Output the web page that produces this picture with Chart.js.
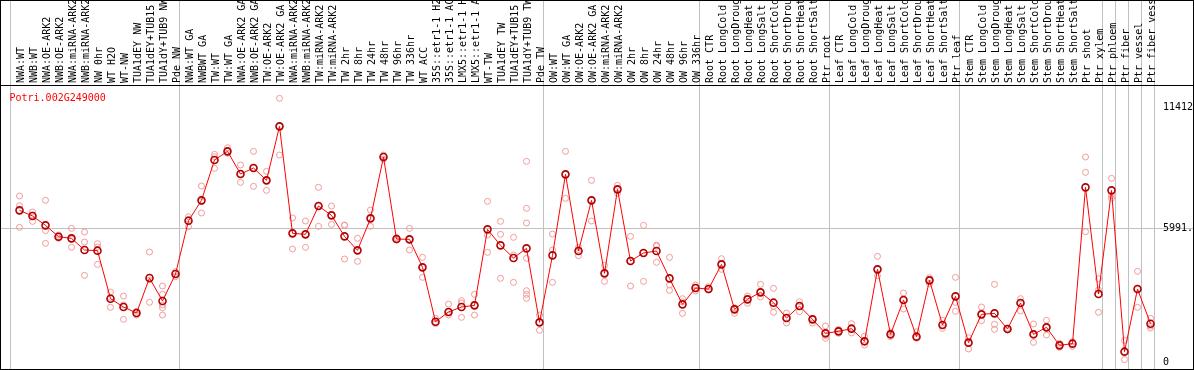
<!DOCTYPE html>
<html>
<head>
<meta charset="utf-8">
<script src="https://cdn.jsdelivr.net/npm/chart.js@4/dist/chart.umd.min.js"></script>
<style>
  body { margin: 0; background: #fff; }
  #wrap { width: 1194px; height: 370px; box-sizing: border-box; border: 1px solid #000; background: #fff; }
  canvas { display: block; }
</style>
</head>
<body>
<div id="wrap"><canvas id="chart" width="1192" height="368"></canvas></div>
<script>
const geneName = "Potri.002G249000";

const categories = [
  "NWA:WT", "NWB:WT", "NWA:OE-ARK2", "NWB:OE-ARK2", "NWA:miRNA-ARK2", "NWB:miRNA-ARK2", "NW 0hr", "WT H2O", "WT-NW",
  "TUA1dEY NW", "TUA1dEY+TUB15 NW", "TUA1dY+TUB9 NW", "Pde NW",
  "NWA:WT GA", "NWBWT GA", "TW:WT", "TW:WT GA", "NWA:OE-ARK2 GA", "NWB:OE-ARK2 GA", "TW:OE-ARK2", "TW:OE-ARK2 GA",
  "NWA:miRNA-ARK2", "NWB:miRNA-ARK2", "TW:miRNA-ARK2", "TW:miRNA-ARK2", "TW 2hr", "TW 8hr", "TW 24hr", "TW 48hr",
  "TW 96hr", "TW 336hr", "WT ACC", "35S::etr1-1 H2O", "35S::etr1-1 ACC", "LMX5::etr1-1 H2O", "LMX5::etr1-1 ACC",
  "WT-TW", "TUA1dEY TW", "TUA1dEY+TUB15 TW", "TUA1dY+TUB9 TW", "Pde TW",
  "OW:WT", "OW:WT GA", "OW:OE-ARK2", "OW:OE-ARK2 GA", "OW:miRNA-ARK2", "OW:miRNA-ARK2", "OW 2hr", "OW 8hr",
  "OW 24hr", "OW 48hr", "OW 96hr", "OW 336hr",
  "Root CTR", "Root LongCold", "Root LongDrought", "Root LongHeat", "Root LongSalt", "Root ShortCold",
  "Root ShortDrought", "Root ShortHeat", "Root ShortSalt", "Ptr root",
  "Leaf CTR", "Leaf LongCold", "Leaf LongDrought", "Leaf LongHeat", "Leaf LongSalt", "Leaf ShortCold",
  "Leaf ShortDrought", "Leaf ShortHeat", "Leaf ShortSalt", "Ptr leaf",
  "Stem CTR", "Stem LongCold", "Stem LongDrought", "Stem LongHeat", "Stem LongSalt", "Stem ShortCold",
  "Stem ShortDrought", "Stem ShortHeat", "Stem ShortSalt", "Ptr shoot", "Ptr xylem",
  "Ptr phloem", "Ptr fiber", "Ptr vessel", "Ptr fiber vessel"
];

// first category index of each group (a grey line sits before each)
const groupStarts = [0, 13, 41, 53, 63, 73, 84, 85, 86, 87, 88];

const means = [
  6807, 6552, 6134, 5625, 5550, 5027, 4997, 2842, 2468, 2199, 3770, 2738, 3949,
  6343, 7256, 9066, 9455, 8437, 8707, 8153, 10577, 5775, 5730, 7001, 6582, 5640, 5012, 6448, 9200,
  5520, 5505, 4249, 1810, 2244, 2468, 2543, 5954, 5236, 4668, 5101, 1780,
  4787, 8422, 4982, 7256, 3979, 7749, 4533, 4892, 4982, 3755, 2588, 3321,
  3276, 4383, 2364, 2812, 3127, 2663, 1975, 2513, 1915, 1287,
  1376, 1496, 928, 4159, 1242, 2783, 1137, 3665, 1661, 2947,
  868, 2139, 2184, 1481, 2648, 1242, 1556, 748, 823, 7839, 3052,
  7704, 464, 3276, 1720
];

const replicates = [
  [7450, 7016, 6044], [6732, 6313, 6600], [7256, 5894, 5326], [5700, 5625, 5550], [5999, 5146, 5510],
  [5834, 5386, 3890], [5311, 5161, 4383], [3142, 2453, 2900], [2962, 2558, 1915], [2274, 2169, 2110],
  [4937, 2678, 3680], [3411, 3037, 2558, 2438, 2109], [4054, 3979, 3830],
  [6523, 6074, 6400], [7899, 6687, 7200], [9320, 8692, 9215], [9619, 9365, 9455], [8841, 8063, 8437],
  [9455, 7884, 8707], [8557, 7704, 8153], [11833, 9290, 10577], [6463, 5071, 5775], [6328, 5146, 5730],
  [7839, 6089, 7001], [7001, 6178, 6582], [6134, 4623, 6150], [5550, 4518, 5000], [6822, 6089, 6448],
  [9290, 9230, 9100], [5580, 5475, 5520], [5999, 5027, 5505], [4697, 3800, 4249], [1960, 1720, 1780],
  [2600, 2109, 2244], [2753, 2005, 2650], [3037, 2109, 2543], [7211, 5700, 4922], [6313, 5730, 3755],
  [5595, 4802, 3575], [9006, 6897, 6238, 4653, 3201, 3037, 2857], [2109, 1421, 1780],
  [5745, 5027, 3575], [9455, 7345, 8422], [5146, 4772, 5050], [8153, 6328, 7256], [4338, 3620, 3979],
  [7929, 7570, 7749], [5640, 3411, 4533], [6134, 3620, 4892], [5251, 4473, 5200], [4697, 3456, 3216],
  [2842, 2184, 2700], [3456, 3186, 3321],
  [3381, 3231, 3276], [4638, 4159, 4383], [2438, 2184, 2400], [2962, 2633, 2812], [3486, 2917, 3127],
  [3306, 2229, 2500], [2199, 1750, 1975], [2708, 2259, 2513], [1960, 1750, 1915], [1616, 1182, 1062],
  [1466, 1287, 1376], [1720, 1302, 1496], [1152, 763, 928], [4742, 3875, 4159], [1331, 1137, 1242],
  [3097, 2379, 2783], [1361, 1062, 1137], [3785, 3516, 3665], [1870, 1511, 1661], [3800, 2678, 2274],
  [1092, 583, 868], [2468, 1855, 2139], [3486, 1690, 1466], [1520, 1440, 1481], [2842, 2289, 2648],
  [1705, 883, 1242], [1870, 1212, 1556], [838, 658, 748], [913, 703, 823], [9200, 8512, 5849],
  [3740, 3231, 2229],
  [8243, 7465, 7345], [972, 105, 464], [4069, 2453, 3276], [1960, 1616, 1526]
];

const yTicks = [0, 5991, 11412];
const yTickLabels = ["0", "5991.", "11412"];

const monoFont = { family: "'DejaVu Sans Mono', monospace", size: 10 };
const gridGrey = "#c0c0c0";

// Chart.js pushes rotated top labels about one line height to the left, so
// the label ticks are nudged right to sit over their points
const labelShift = 14 / 13;
const boundaryOffset = -0.6923;
const boundaryValues = groupStarts.map((k) => k + boundaryOffset);
const isBoundary = (v) => boundaryValues.includes(v);

const meanPoints = means.map((v, i) => ({ x: i, y: v }));
const repPoints = [];
replicates.forEach((arr, i) => arr.forEach((v) => repPoints.push({ x: i, y: v })));

const titlePlugin = {
  id: "geneTitle",
  afterDraw(chart) {
    const { ctx, chartArea } = chart;
    ctx.save();
    ctx.font = "10px 'DejaVu Sans Mono', monospace";
    ctx.fillStyle = "#ff0000";
    ctx.textBaseline = "alphabetic";
    ctx.fillText(geneName, chartArea.left + 8.5, chartArea.top + 16);
    ctx.restore();
  }
};

const ctx = document.getElementById("chart").getContext("2d");
new Chart(ctx, {
  data: {
    datasets: [
      {
        type: "line",
        label: "mean",
        data: meanPoints,
        borderColor: "#ff0000",
        borderWidth: 1,
        pointRadius: 3.5,
        pointBorderWidth: 1.6,
        pointBorderColor: "#b00000",
        pointBackgroundColor: "rgba(255,255,255,0)",
        tension: 0
      },
      {
        type: "scatter",
        label: "replicates",
        data: repPoints,
        showLine: false,
        pointRadius: 3,
        pointBorderWidth: 1,
        pointBorderColor: "#f09a9a",
        pointBackgroundColor: "rgba(255,255,255,0)"
      }
    ]
  },
  options: {
    responsive: false,
    animation: false,
    layout: { padding: 0, autoPadding: false },
    plugins: { legend: { display: false }, tooltip: { enabled: false } },
    scales: {
      x: {
        type: "linear",
        position: "top",
        min: -1.4231,
        max: 90.2692,
        afterBuildTicks(scale) {
          const t = categories.map((c, i) => ({ value: i + labelShift }));
          boundaryValues.forEach((v) => t.push({ value: v }));
          t.sort((a, b) => a.value - b.value);
          scale.ticks = t;
        },
        afterFit(scale) {
          scale.height = 84;
          scale.paddingLeft = 0;
          scale.paddingRight = 0;
        },
        ticks: {
          autoSkip: false,
          minRotation: 90,
          maxRotation: 90,
          padding: -82,
          color: "#000",
          font: monoFont,
          callback: (v) => (isBoundary(v) ? "" : categories[Math.round(v - labelShift)])
        },
        grid: {
          drawTicks: true,
          tickLength: 84,
          lineWidth: 1,
          color: (c) => (c.tick && isBoundary(c.tick.value) ? gridGrey : "rgba(0,0,0,0)"),
          tickColor: (c) => (c.tick && isBoundary(c.tick.value) ? gridGrey : "rgba(0,0,0,0)")
        },
        border: { display: true, color: "#000", width: 1 }
      },
      y: {
        type: "linear",
        position: "right",
        min: -314,
        max: 12433,
        afterBuildTicks(scale) { scale.ticks = yTicks.map((v) => ({ value: v })); },
        afterFit(scale) {
          scale.width = 0;
          scale.paddingTop = 0;
          scale.paddingBottom = 0;
        },
        ticks: {
          mirror: true,
          crossAlign: "far",
          padding: 0,
          color: "#000",
          font: monoFont,
          callback: (v) => yTickLabels[yTicks.indexOf(v)]
        },
        grid: {
          drawTicks: false,
          color: (c) => (c.tick && c.tick.value === 5991 ? gridGrey : "rgba(0,0,0,0)")
        },
        border: { display: false }
      }
    }
  },
  plugins: [titlePlugin]
});
</script>
</body>
</html>
